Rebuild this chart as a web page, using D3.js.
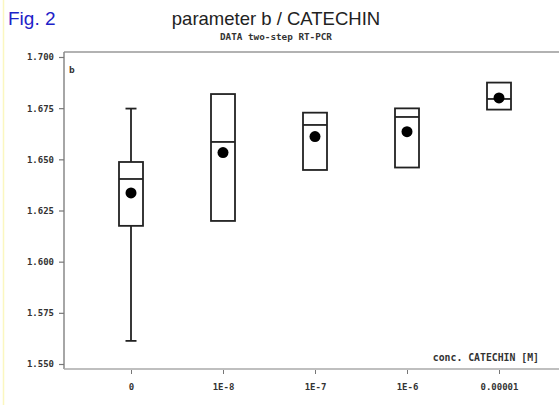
<!DOCTYPE html>
<html><head><meta charset="utf-8">
<script src="https://cdn.jsdelivr.net/npm/d3@7"></script>
<style>
html,body{margin:0;padding:0;background:#fff;}
svg{display:block;}
</style></head>
<body>
<svg id="chart" width="559" height="405"></svg>
<script>
const categories = ["0", "1E-8", "1E-7", "1E-6", "0.00001"];
const q1Values      = [1.6175, 1.6199, 1.6448, 1.6460, 1.6743];
const medianValues  = [1.6404, 1.6585, 1.6668, 1.6707, 1.6795];
const q3Values      = [1.6487, 1.6819, 1.6728, 1.6749, 1.6875];
const meanValues    = [1.6336, 1.6533, 1.6611, 1.6635, 1.6800];
const whiskerLow    = [1.5613, 1.6199, 1.6448, 1.6460, 1.6743];
const whiskerHigh   = [1.6748, 1.6819, 1.6728, 1.6749, 1.6875];
const yTicks = [1.550, 1.575, 1.600, 1.625, 1.650, 1.675, 1.700];

const svg = d3.select("#chart");
const frameLeft = 64, frameTop = 52, frameBottom = 369;

// light yellow edge line
svg.append("line").attr("x1",3.5).attr("x2",3.5).attr("y1",0).attr("y2",405)
  .attr("stroke","#fbf7c0").attr("stroke-width",1.5);

const y = d3.scaleLinear().domain([1.550, 1.700]).range([364, 57]);
const x = d3.scalePoint().domain(categories).range([131, 499]);

// titles
svg.append("text").attr("x",8).attr("y",25).text("Fig. 2")
  .attr("font-family","Liberation Sans, Arial, sans-serif").attr("font-size",19)
  .attr("fill","#1d22c8");
svg.append("text").attr("x",276).attr("y",25).attr("text-anchor","middle")
  .text("parameter b / CATECHIN")
  .attr("font-family","Liberation Sans, Arial, sans-serif").attr("font-size",18.5)
  .attr("fill","#222");
svg.append("text").attr("x",276).attr("y",40).attr("text-anchor","middle")
  .text("DATA two-step RT-PCR")
  .attr("font-family","DejaVu Sans Mono, monospace").attr("font-size",9.3)
  .attr("font-weight","bold").attr("fill","#333");

// frame
svg.append("line").attr("x1",frameLeft).attr("x2",559).attr("y1",frameTop).attr("y2",frameTop)
  .attr("stroke","#999").attr("stroke-width",1.5);
svg.append("line").attr("x1",frameLeft).attr("x2",frameLeft).attr("y1",frameTop).attr("y2",frameBottom)
  .attr("stroke","#888").attr("stroke-width",1.5);
svg.append("line").attr("x1",frameLeft).attr("x2",559).attr("y1",frameBottom).attr("y2",frameBottom)
  .attr("stroke","#aaa").attr("stroke-width",1.5);

// y axis
const yAxis = d3.axisLeft(y).tickValues(yTicks).tickFormat(d3.format(".3f")).tickSize(5).tickPadding(5);
const gy = svg.append("g").attr("transform",`translate(${frameLeft},0)`).call(yAxis);
gy.select(".domain").remove();
gy.selectAll(".tick line").attr("stroke","#777").attr("stroke-width",1.2);
gy.selectAll(".tick text").attr("font-family","DejaVu Sans Mono, monospace")
  .attr("font-size",9).attr("font-weight","bold").attr("fill","#333");

// x axis
const xAxis = d3.axisBottom(x).tickSize(4).tickPadding(10);
const gx = svg.append("g").attr("transform",`translate(0,${frameBottom+1})`).call(xAxis);
gx.select(".domain").remove();
gx.selectAll(".tick line").attr("stroke","#777").attr("stroke-width",1);
gx.selectAll(".tick text").attr("font-family","DejaVu Sans Mono, monospace")
  .attr("font-size",9).attr("font-weight","bold").attr("fill","#333");

// labels
svg.append("text").attr("x",69).attr("y",73).text("b")
  .attr("font-family","DejaVu Sans Mono, monospace").attr("font-size",9.5)
  .attr("font-weight","bold").attr("fill","#333");
svg.append("text").attr("x",539).attr("y",361).attr("text-anchor","end").text("conc. CATECHIN [M]")
  .attr("font-family","DejaVu Sans Mono, monospace").attr("font-size",9.8)
  .attr("font-weight","bold").attr("fill","#333");

// boxes
const boxW = 24, capW = 11;
const data = categories.map((c,i)=>({c, q1:q1Values[i], med:medianValues[i], q3:q3Values[i],
  mean:meanValues[i], lo:whiskerLow[i], hi:whiskerHigh[i]}));
const g = svg.append("g").attr("stroke","#222").attr("stroke-width",1.8).attr("fill","none");
data.forEach(d=>{
  const cx = x(d.c);
  if (d.hi > d.q3) {
    g.append("line").attr("x1",cx).attr("x2",cx).attr("y1",y(d.q3)).attr("y2",y(d.hi));
    g.append("line").attr("x1",cx-capW/2).attr("x2",cx+capW/2).attr("y1",y(d.hi)).attr("y2",y(d.hi));
  }
  if (d.lo < d.q1) {
    g.append("line").attr("x1",cx).attr("x2",cx).attr("y1",y(d.q1)).attr("y2",y(d.lo));
    g.append("line").attr("x1",cx-capW/2).attr("x2",cx+capW/2).attr("y1",y(d.lo)).attr("y2",y(d.lo));
  }
  g.append("rect").attr("x",cx-boxW/2).attr("y",y(d.q3)).attr("width",boxW)
    .attr("height",y(d.q1)-y(d.q3)).attr("fill","#fff");
  g.append("line").attr("x1",cx-boxW/2).attr("x2",cx+boxW/2).attr("y1",y(d.med)).attr("y2",y(d.med));
  svg.append("circle").attr("cx",cx).attr("cy",y(d.mean)).attr("r",5.5).attr("fill","#000");
});
</script>
</body></html>
